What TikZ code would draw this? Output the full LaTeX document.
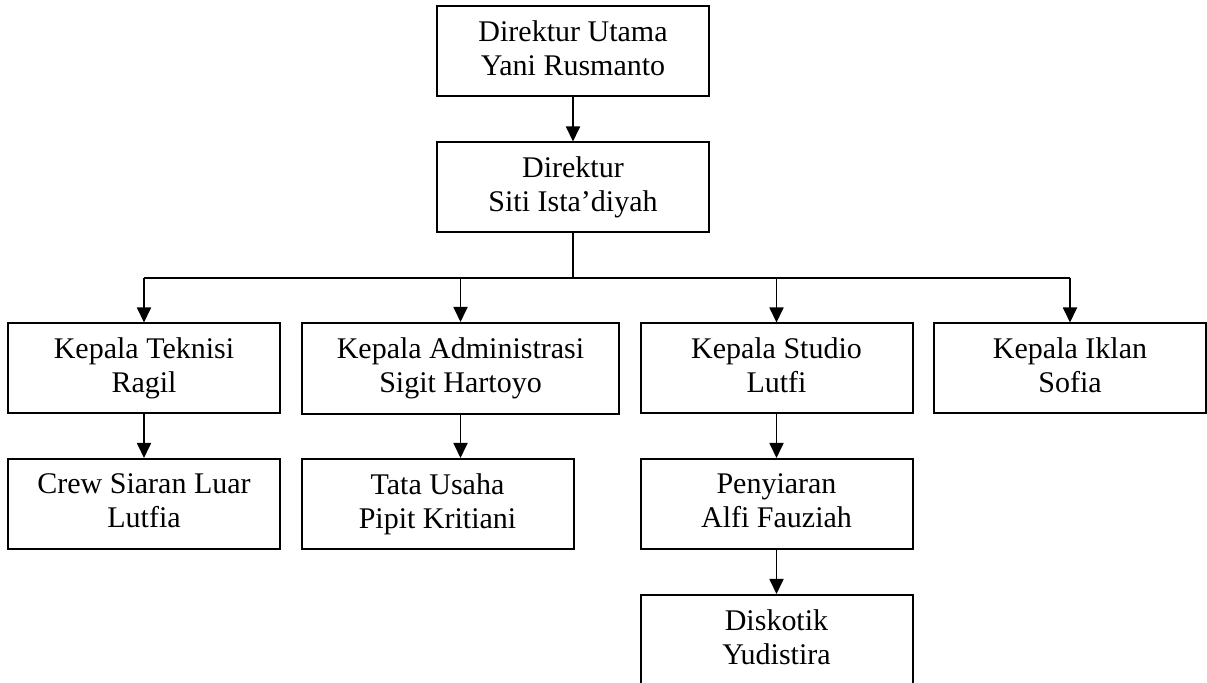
\documentclass[tikz,border=0pt]{standalone}
\usepackage{fontspec}
\setmainfont{Liberation Serif}
\usetikzlibrary{arrows.meta}
\newcommand{\lstrut}{\rule[-0.2\baselineskip]{0pt}{0.8\baselineskip}}
\newcommand{\twol}[2]{\lstrut #1\\\lstrut #2}
\begin{document}
\begin{tikzpicture}[x=0.5pt,y=-0.5pt,
  orgbox/.style={draw, line width=1pt, align=center, inner sep=0pt,
    font=\fontsize{15}{17}\selectfont},
  w272/.style={minimum width=136pt, minimum height=45pt},
  conn/.style={line width=0.9pt},
  arr/.style={conn, -{Triangle[width=7pt,length=7.5pt]}}]
\clip (0,0) rectangle (1207,683);
\fill[white] (0,0) rectangle (1207,683);
% level 0/1
\node[orgbox, w272] (du) at (573,51.5) {\twol{Direktur Utama}{Yani Rusmanto}};
\node[orgbox, w272] (d) at (573,187.5) {\twol{Direktur}{Siti Ista'diyah}};
% level 2
\node[orgbox, w272] (kt) at (144,368.5) {\twol{Kepala Teknisi}{Ragil}};
\node[orgbox, minimum width=158.5pt, minimum height=45.5pt] (ka) at (460.5,368.5) {\twol{Kepala Administrasi}{Sigit Hartoyo}};
\node[orgbox, w272] (ks) at (776.5,368.5) {\twol{Kepala Studio}{Lutfi}};
\node[orgbox, w272] (ki) at (1070,368.5) {\twol{Kepala Iklan}{Sofia}};
% level 3
\node[orgbox, w272] (crew) at (144,504) {\twol{Crew Siaran Luar}{Lutfia}};
\node[orgbox, w272] (tu) at (437.5,504) {\twol{Tata Usaha}{Pipit Kritiani}};
\node[orgbox, w272] (pen) at (776.5,504) {\twol{Penyiaran}{Alfi Fauziah}};
% level 4
\node[orgbox, w272] (disk) at (776.5,640) {\twol{Diskotik}{Yudistira}};
% connectors
\coordinate (bus) at (573,278);
\draw[arr] (du.south) -- (d.north);
\draw[conn] (d.south) -- (bus);
\draw[conn] (kt.north |- bus) -- (ki.north |- bus);
\draw[arr] (kt.north |- bus) -- (kt.north);
\draw[arr] (ka.north |- bus) -- (ka.north);
\draw[arr] (ks.north |- bus) -- (ks.north);
\draw[arr] (ki.north |- bus) -- (ki.north);
\draw[arr] (kt.south) -- (crew.north);
\draw[arr] (ka.south) -- (ka.south |- tu.north);
\draw[arr] (ks.south) -- (pen.north);
\draw[arr] (pen.south) -- (disk.north);
\end{tikzpicture}
\end{document}
